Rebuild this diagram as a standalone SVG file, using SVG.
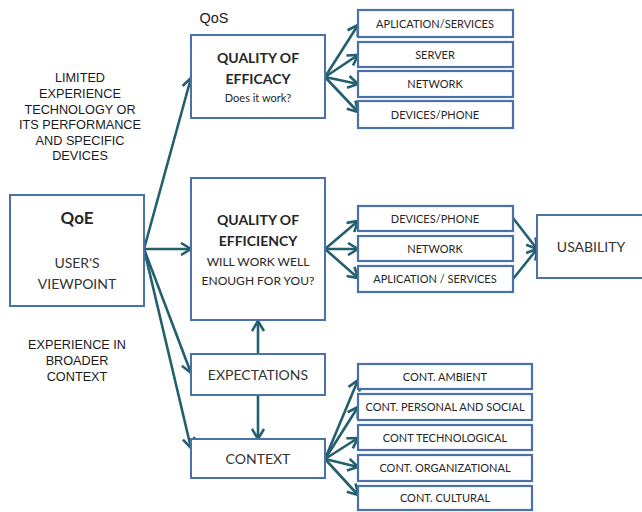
<svg xmlns="http://www.w3.org/2000/svg" width="642" height="512" viewBox="0 0 642 512">
  <style>
    .box { fill: #ffffff; stroke: #4a71a8; stroke-width: 2; }
    .sm { fill: #ffffff; stroke: #4a71a8; stroke-width: 2.2; }
    .conn { fill: none; stroke: #235f6e; stroke-width: 2.6; marker-end: url(#arr); }
    .t { font-family: Lato, "Open Sans", sans-serif; fill: #262626; text-anchor: middle; }
    .b { font-weight: bold; font-size: 14px; }
    .s { font-size: 11px; }
    .m { font-size: 14px; fill: #333333; }
    .lbl { font-family: "Liberation Sans", Arial, sans-serif; font-size: 12.7px; fill: #1a1a1a; text-anchor: middle; }
  </style>
  <defs>
    <marker id="arr" markerUnits="userSpaceOnUse" viewBox="0 0 14 14" markerWidth="14" markerHeight="14" refX="12" refY="7" orient="auto">
      <path d="M2,1 L12,7 L2,13" fill="none" stroke="#235f6e" stroke-width="2.6"/>
    </marker>
  </defs>

  <rect width="642" height="512" fill="#ffffff"/>

  <!-- side labels -->
  <g id="labels">
    <text class="lbl" x="214" y="23" style="font-size:14.5px">QoS</text>
    <text class="lbl" x="80" y="82">LIMITED</text>
    <text class="lbl" x="80" y="98">EXPERIENCE</text>
    <text class="lbl" x="80" y="114">TECHNOLOGY OR</text>
    <text class="lbl" x="80" y="129">ITS PERFORMANCE</text>
    <text class="lbl" x="80" y="145">AND SPECIFIC</text>
    <text class="lbl" x="80" y="160">DEVICES</text>
    <text class="lbl" x="77" y="349">EXPERIENCE IN</text>
    <text class="lbl" x="77" y="365">BROADER</text>
    <text class="lbl" x="77" y="381">CONTEXT</text>
  </g>

  <!-- connectors -->
  <g id="connectors">
    <line class="conn" x1="144" y1="249" x2="191" y2="78"/>
    <line class="conn" x1="144" y1="249" x2="191" y2="249"/>
    <line class="conn" x1="144" y1="249" x2="191" y2="373"/>
    <line class="conn" x1="144" y1="249" x2="191" y2="448"/>
    <line class="conn" x1="258" y1="354" x2="258" y2="321"/>
    <line class="conn" x1="258" y1="395" x2="258" y2="439"/>

    <line class="conn" x1="325" y1="77" x2="358" y2="25"/>
    <line class="conn" x1="325" y1="77" x2="358" y2="55"/>
    <line class="conn" x1="325" y1="77" x2="358" y2="84"/>
    <line class="conn" x1="325" y1="77" x2="358" y2="112"/>

    <line class="conn" x1="325" y1="249" x2="358" y2="221"/>
    <line class="conn" x1="325" y1="249" x2="358" y2="249"/>
    <line class="conn" x1="325" y1="249" x2="358" y2="278"/>

    <line class="conn" x1="513" y1="218" x2="537" y2="249"/>
    <line class="conn" x1="513" y1="279" x2="537" y2="249"/>

    <line class="conn" x1="325" y1="459" x2="358" y2="380"/>
    <line class="conn" x1="325" y1="459" x2="358" y2="407"/>
    <line class="conn" x1="325" y1="459" x2="358" y2="438"/>
    <line class="conn" x1="325" y1="459" x2="358" y2="467"/>
    <line class="conn" x1="325" y1="459" x2="358" y2="495"/>
  </g>

  <g id="qoe">
    <rect class="box" x="10" y="195" width="134" height="111"/>
    <text class="t" x="77" y="224" font-size="17" font-weight="bold">QoE</text>
    <text class="t m" x="77" y="268">USER'S</text>
    <text class="t m" x="77" y="289">VIEWPOINT</text>
  </g>

  <g id="efficacy">
    <rect class="box" x="191" y="35" width="134" height="83"/>
    <text class="t b" x="258" y="63">QUALITY OF</text>
    <text class="t b" x="258" y="84">EFFICACY</text>
    <text class="t s" x="258" y="102" fill="#404040">Does it work?</text>
  </g>

  <g id="efficiency">
    <rect class="box" x="191" y="178" width="134" height="142"/>
    <text class="t b" x="258" y="225">QUALITY OF</text>
    <text class="t b" x="258" y="246">EFFICIENCY</text>
    <text class="t" x="258" y="266" font-size="12" fill="#404040">WILL WORK WELL</text>
    <text class="t" x="258" y="285" font-size="12" fill="#404040">ENOUGH FOR YOU?</text>
  </g>

  <g id="expectations">
    <rect class="box" x="191" y="354" width="134" height="41"/>
    <text class="t m" x="258" y="380">EXPECTATIONS</text>
  </g>

  <g id="context">
    <rect class="box" x="191" y="439" width="134" height="39"/>
    <text class="t m" x="258" y="464">CONTEXT</text>
  </g>

  <g id="efficacy-app">
    <rect class="sm" x="358" y="10" width="155" height="27"/>
    <text class="t s" x="435" y="27.5">APLICATION/SERVICES</text>
  </g>
  <g id="efficacy-server">
    <rect class="sm" x="358" y="42" width="155" height="25"/>
    <text class="t s" x="435" y="58.5">SERVER</text>
  </g>
  <g id="efficacy-network">
    <rect class="sm" x="358" y="71" width="155" height="26"/>
    <text class="t s" x="435" y="88">NETWORK</text>
  </g>
  <g id="efficacy-devices">
    <rect class="sm" x="358" y="101" width="155" height="27"/>
    <text class="t s" x="435" y="118.5">DEVICES/PHONE</text>
  </g>

  <g id="efficiency-devices">
    <rect class="sm" x="358" y="206" width="155" height="25"/>
    <text class="t s" x="435" y="222.5">DEVICES/PHONE</text>
  </g>
  <g id="efficiency-network">
    <rect class="sm" x="358" y="236" width="155" height="25"/>
    <text class="t s" x="435" y="252.5">NETWORK</text>
  </g>
  <g id="efficiency-app">
    <rect class="sm" x="358" y="266" width="155" height="26"/>
    <text class="t s" x="435" y="283">APLICATION / SERVICES</text>
  </g>

  <g id="usability">
    <rect class="box" x="537" y="215" width="110" height="63"/>
    <text class="t m" x="591" y="252" font-size="15">USABILITY</text>
  </g>

  <g id="cont-ambient">
    <rect class="sm" x="358" y="364" width="174" height="25"/>
    <text class="t s" x="445" y="380.5">CONT. AMBIENT</text>
  </g>
  <g id="cont-personal">
    <rect class="sm" x="358" y="394" width="174" height="26"/>
    <text class="t s" x="445" y="411">CONT. PERSONAL AND SOCIAL</text>
  </g>
  <g id="cont-technological">
    <rect class="sm" x="358" y="425" width="174" height="25"/>
    <text class="t s" x="445" y="441.5">CONT TECHNOLOGICAL</text>
  </g>
  <g id="cont-organizational">
    <rect class="sm" x="358" y="455" width="174" height="26"/>
    <text class="t s" x="445" y="472">CONT. ORGANIZATIONAL</text>
  </g>
  <g id="cont-cultural">
    <rect class="sm" x="358" y="486" width="174" height="24"/>
    <text class="t s" x="445" y="502">CONT. CULTURAL</text>
  </g>
</svg>
